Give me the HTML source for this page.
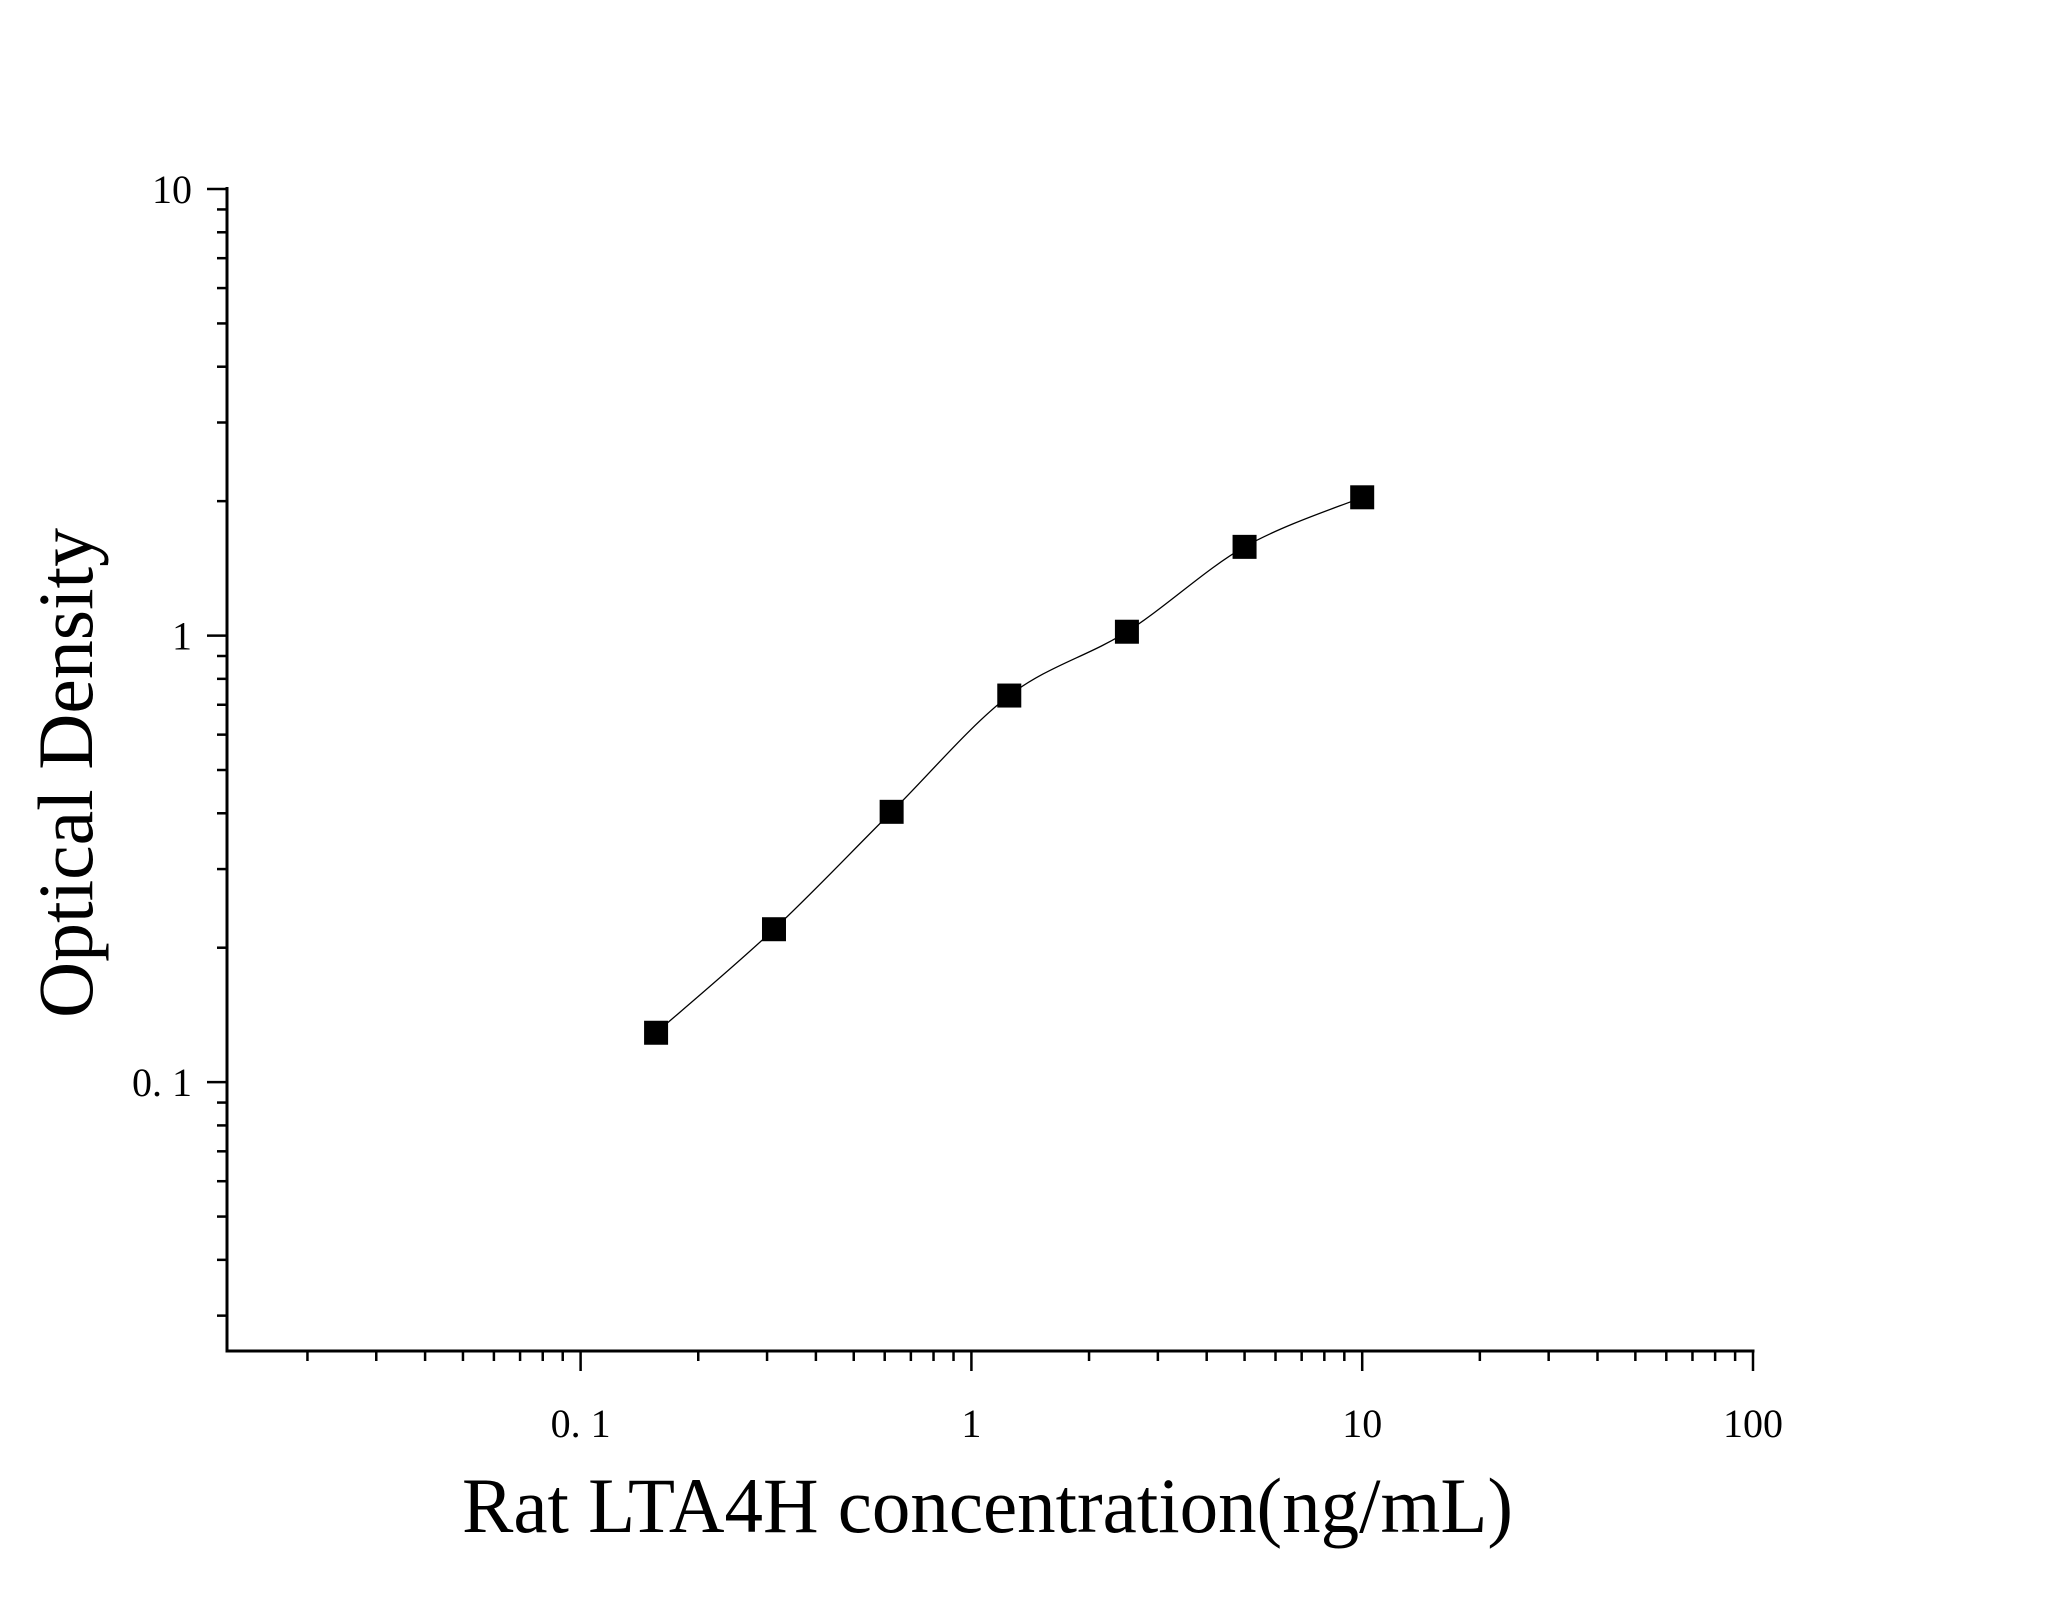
<!DOCTYPE html>
<html><head><meta charset="utf-8"><style>body{margin:0;background:#fff}svg{display:block}</style></head>
<body>
<svg id="chart" width="2048" height="1605" viewBox="0 0 2048 1605" xmlns="http://www.w3.org/2000/svg" font-family="'Liberation Serif', serif">
<g id="axes"></g><g id="marks"></g>
<text x="462" y="1532" font-size="78" textLength="1051" lengthAdjust="spacingAndGlyphs">Rat LTA4H concentration(ng/mL)</text>
<text transform="translate(92,773) rotate(-90)" text-anchor="middle" font-size="78" textLength="490" lengthAdjust="spacingAndGlyphs">Optical Density</text>
</svg>
<script>
const concentrations=[0.156,0.3125,0.625,1.25,2.5,5,10];
const odValues=[0.129,0.220,0.403,0.734,1.02,1.58,2.04];
const xTickValues=[0.1,1,10,100];
const xTickLabels=["0. 1","1","10","100"];
const yTickValues=[0.1,1,10];
const yTickLabels=["0. 1","1","10"];
const X0=227,X1=1753,Y0=1351,Y1=189;
const xmin=Math.log10(0.01245),xmax=2,ymin=Math.log10(0.025),ymax=1;
const sx=v=>X0+(Math.log10(v)-xmin)/(xmax-xmin)*(X1-X0);
const sy=v=>Y0-(Math.log10(v)-ymin)/(ymax-ymin)*(Y0-Y1);
const NS="http://www.w3.org/2000/svg";
const axes=document.getElementById('axes'),marks=document.getElementById('marks');
function mk(t,a,p){const e=document.createElementNS(NS,t);for(const k in a)e.setAttribute(k,a[k]);p.appendChild(e);return e;}
let l=mk('line',{x1:X0,y1:Y1-2,x2:X0,y2:Y0+1.5,stroke:'#000','stroke-width':3},axes);


l=mk('line',{x1:X0-1.5,y1:Y0,x2:X1+1.5,y2:Y0,stroke:'#000','stroke-width':3},axes);


// x ticks
for(let d=-2;d<=1;d++){for(let m=1;m<=9;m++){const v=m*Math.pow(10,d);if(v<0.01245)continue;const x=sx(v);const t=mk('line',{x1:x,y1:Y0,x2:x,y2:Y0+(m===1?20:10),stroke:'#000','stroke-width':2.5},axes);

}}
{const t=mk('line',{x1:X1,y1:Y0,x2:X1,y2:Y0+20,stroke:'#000','stroke-width':2.5},axes);

}
// y ticks
for(let d=-2;d<=1;d++){for(let m=1;m<=9;m++){const v=m*Math.pow(10,d);if(v<0.025||v>10)continue;const y=sy(v);const t=mk('line',{x1:X0,y1:y,x2:X0-(m===1?20:10),y2:y,stroke:'#000','stroke-width':2.5},axes);

}}
xTickValues.forEach((v,i)=>{const t=mk('text',{x:sx(v),y:1437,'text-anchor':'middle','font-size':40},axes);t.textContent=xTickLabels[i];

});
yTickValues.forEach((v,i)=>{const t=mk('text',{x:192,y:sy(v)+14,'text-anchor':'end','font-size':40},axes);t.textContent=yTickLabels[i];

});
// curve (Catmull-Rom through points)
const P=concentrations.map((c,i)=>[sx(c),sy(odValues[i])]);
let d=`M${P[0][0]},${P[0][1]}`;
for(let i=0;i<P.length-1;i++){const p0=P[i-1]||P[i],p1=P[i],p2=P[i+1],p3=P[i+2]||p2;
d+=` C${p1[0]+(p2[0]-p0[0])/6},${p1[1]+(p2[1]-p0[1])/6} ${p2[0]-(p3[0]-p1[0])/6},${p2[1]-(p3[1]-p1[1])/6} ${p2[0]},${p2[1]}`;}
const c=mk('path',{d:d,fill:'none',stroke:'#000','stroke-width':1.3},marks);


P.forEach(p=>{const r=mk('rect',{x:p[0]-12,y:p[1]-12,width:24,height:24,fill:'#000'},marks);

});
</script>
</body></html>
